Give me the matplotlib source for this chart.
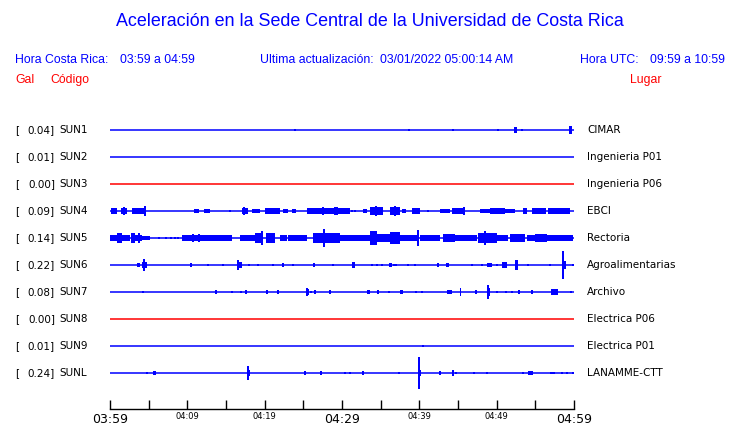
import matplotlib
matplotlib.use("Agg")
import matplotlib.pyplot as plt

W, H = 740, 423

# stations, top to bottom
codes = ["SUN1", "SUN2", "SUN3", "SUN4", "SUN5", "SUN6", "SUN7", "SUN8", "SUN9", "SUNL"]
gal = ["0.04", "0.01", "0.00", "0.09", "0.14", "0.22", "0.08", "0.00", "0.01", "0.24"]
places = ["CIMAR", "Ingenieria P01", "Ingenieria P06", "EBCI", "Rectoria",
          "Agroalimentarias", "Archivo", "Electrica P06", "Electrica P01", "LANAMME-CTT"]
trace_colors = ["blue", "blue", "red", "blue", "blue", "blue", "blue", "red", "blue", "blue"]

# bursts per station: (start min, end min, half amplitude) minutes after 03:59
bursts = {
    "SUN1": [(23.9, 23.9, 1), (38.5, 38.8, 1), (44.4, 44.4, 1), (50.2, 50.2, 1),
             (52.3, 52.6, 2), (53.3, 53.3, 1), (59.3, 59.7, 3)],
    "SUN2": [],
    "SUN3": [],
    "SUN4": [(0.1, 0.9, 2), (1.4, 2.2, 2), (1.8, 1.8, 3), (2.8, 4.7, 2.5), (4.5, 4.5, 4),
             (10.9, 11.5, 1.5), (12.2, 12.9, 1.5), (15.5, 15.5, 1), (17.1, 17.8, 2),
             (17.3, 17.3, 3), (18.4, 19.4, 1.5), (20.0, 22.0, 2), (22.4, 23.0, 1.5),
             (23.5, 24.1, 1.5), (25.5, 26.9, 2), (26.9, 31.0, 2), (27.5, 27.5, 3),
             (29.1, 29.1, 3), (29.4, 29.4, 3), (31.3, 31.3, 1), (31.7, 31.7, 1),
             (32.7, 33.2, 1.5), (33.6, 35.3, 3), (34.4, 34.4, 4), (36.2, 37.5, 3),
             (36.8, 36.8, 4), (37.8, 38.3, 1.5), (39.1, 40.1, 2), (41.1, 41.1, 1),
             (42.7, 44.0, 1.5), (44.2, 45.9, 2), (45.8, 45.8, 3), (47.8, 49.1, 1.5),
             (49.1, 51.1, 2), (51.1, 52.4, 1.5), (53.4, 53.9, 2), (54.6, 56.4, 2),
             (56.6, 59.5, 2)],
    "SUN5": [(0.0, 0.9, 2.5), (0.9, 1.6, 4), (1.6, 2.6, 2), (2.7, 3.2, 3.5), (2.9, 2.9, 4),
             (3.2, 4.1, 2.5), (3.7, 3.7, 4), (4.1, 5.2, 1.5), (6.3, 6.3, 1), (7.2, 7.2, 1),
             (7.9, 7.9, 1), (8.4, 8.4, 1), (8.8, 8.8, 1), (9.3, 15.8, 2), (10.7, 10.7, 3),
             (11.5, 11.5, 3), (16.8, 18.8, 2.5), (18.8, 19.7, 4), (19.6, 19.6, 5),
             (20.2, 21.3, 3.5), (22.0, 22.9, 2), (23.0, 25.5, 2), (26.3, 26.9, 4),
             (26.9, 29.7, 3.5), (27.7, 27.7, 7), (29.7, 31.0, 2.5), (31.0, 33.6, 2),
             (33.6, 34.5, 5), (34.5, 36.2, 3), (36.2, 37.5, 4.5), (37.5, 39.7, 2),
             (39.8, 39.8, 6), (40.1, 42.7, 2), (43.1, 44.6, 3), (44.6, 47.5, 2),
             (47.6, 50.0, 4), (48.5, 48.5, 5), (50.0, 51.5, 2), (51.7, 53.7, 3),
             (53.9, 55.0, 2), (55.0, 56.5, 3), (56.5, 59.9, 2.5)],
    "SUN6": [(3.5, 3.9, 1.5), (4.1, 4.8, 2.5), (4.4, 4.4, 4.5), (10.3, 10.6, 1.5),
             (12.7, 12.7, 0.7), (14.6, 14.6, 1), (16.6, 17.1, 2), (16.6, 16.6, 4),
             (18.0, 18.0, 1), (19.1, 19.1, 0.7), (21.1, 21.1, 1), (22.2, 22.4, 1.5),
             (23.7, 23.7, 1), (26.3, 26.5, 1.5), (28.8, 28.8, 1), (31.3, 31.7, 2.5),
             (33.9, 33.9, 1), (34.5, 34.5, 1), (35.2, 35.2, 1), (36.1, 36.5, 1.5),
             (36.6, 37.1, 1), (38.5, 38.5, 1), (39.4, 39.4, 1), (42.4, 42.4, 1.5),
             (43.5, 43.8, 1.5), (46.8, 46.8, 1), (48.1, 48.1, 1), (48.8, 49.4, 1.5),
             (50.0, 50.0, 1), (50.7, 51.3, 2.5), (52.4, 52.8, 3.5), (54.1, 54.1, 1),
             (56.9, 56.9, 1), (58.5, 59.0, 3), (58.6, 58.6, 10.5), (59.9, 59.9, 1)],
    "SUN7": [(4.3, 4.3, 1), (13.6, 13.9, 1.5), (15.8, 15.8, 1), (16.9, 16.9, 1),
             (17.5, 17.6, 1.5), (20.2, 20.4, 1.5), (21.6, 21.9, 1.5), (25.3, 25.7, 2.5),
             (25.5, 25.5, 3), (26.0, 26.0, 1), (26.5, 26.5, 1.5), (28.4, 28.4, 1.5),
             (33.2, 33.6, 1.5), (34.7, 34.7, 1.5), (36.1, 36.1, 1), (37.5, 37.9, 1.5),
             (39.6, 39.6, 1), (40.3, 40.3, 1), (43.6, 44.0, 1.5), (44.1, 44.1, 1.5),
             (45.2, 45.4, 3), (47.3, 47.3, 1.5), (48.8, 49.1, 3), (48.9, 48.9, 5),
             (50.0, 50.0, 1), (51.2, 51.2, 1), (52.0, 52.0, 1), (52.9, 52.9, 1.5),
             (54.6, 54.6, 1.5), (57.0, 57.9, 2), (59.6, 59.6, 1)],
    "SUN8": [],
    "SUN9": [(40.5, 40.5, 0.7)],
    "SUNL": [(4.8, 4.8, 1), (5.6, 5.9, 1.5), (17.7, 18.1, 2.5), (17.8, 17.8, 5),
             (25.2, 25.2, 1.5), (27.3, 27.3, 1.5), (30.4, 30.4, 1), (30.9, 31.0, 1),
             (32.6, 32.8, 1.5), (37.4, 37.4, 1), (39.9, 40.2, 2), (40.0, 40.0, 12),
             (42.7, 42.7, 1.5), (44.2, 44.4, 2.5), (44.7, 44.7, 1), (47.1, 47.1, 1),
             (48.8, 48.8, 1), (53.4, 53.4, 1), (54.1, 54.7, 1.5), (56.9, 57.5, 1),
             (58.5, 58.5, 1), (59.0, 59.2, 1), (59.9, 59.9, 1)],
}

# time axis
major_ticks = [0, 30, 60]
major_labels = ["03:59", "04:29", "04:59"]
minor_ticks = [5, 10, 15, 20, 25, 35, 40, 45, 50, 55]
minor_labels = ["", "04:09", "", "04:19", "", "", "04:39", "", "04:49", ""]

BLUE = "#0000ff"
RED = "#ff0000"
row_px = 27.0
amp_scale = 1.35 / row_px


def fx(x):
    return x / W


def fy(y):
    return 1 - y / H


fig = plt.figure(figsize=(W / 100, H / 100), dpi=100)

# axes: rows 0..9 at y = 130 + 27*i, bottom spine at y = 409
top_px, bot_px = 103, 409
ax = fig.add_axes([fx(110), fy(bot_px), (574 - 110) / W, (bot_px - top_px) / H])
ax.set_xlim(0, 60)
ax.set_ylim((bot_px - 130) / row_px, -1)

for i, code in enumerate(codes):
    ax.plot([0, 60], [i, i], color=trace_colors[i], lw=1.1, solid_capstyle="butt")
    for t0, t1, a in bursts[code]:
        w = max(t1 - t0, 0.24)
        h = max(a * amp_scale, 1.4 / row_px)
        ax.bar(t0 if t1 > t0 else t0 - w / 2, 2 * h, width=w, bottom=i - h,
               align="edge", color=trace_colors[i], linewidth=0)

for s in ["top", "left", "right"]:
    ax.spines[s].set_visible(False)
ax.spines["bottom"].set_linewidth(1.0)
ax.set_yticks([])
ax.set_xticks(major_ticks)
ax.set_xticklabels(major_labels, fontsize=9)
ax.set_xticks(minor_ticks, minor=True)
ax.set_xticklabels(minor_labels, minor=True, fontsize=6)
ax.tick_params(axis="x", which="major", direction="in", length=6.5, width=1, pad=3)
ax.tick_params(axis="x", which="minor", direction="in", length=6.5, width=1, pad=2)

# station labels
for i in range(len(codes)):
    y = fy(130 + row_px * i)
    fig.text(fx(15), y, "[", fontsize=7.5, va="center", ha="left")
    fig.text(fx(55), y, gal[i] + "]", fontsize=7.5, va="center", ha="right")
    fig.text(fx(59), y, codes[i], fontsize=7.5, va="center", ha="left")
    fig.text(fx(587), y, places[i], fontsize=7.5, va="center", ha="left")

# header
hf = "Liberation Sans"
fig.text(0.5, fy(22), "Aceleración en la Sede Central de la Universidad de Costa Rica",
         fontsize=12.9, color=BLUE, ha="center", va="center", family=hf)
fig.text(fx(15), fy(60), "Hora Costa Rica:", fontsize=8.8, color=BLUE, va="center", family=hf)
fig.text(fx(120), fy(60), "03:59 a 04:59", fontsize=8.8, color=BLUE, va="center", family=hf)
fig.text(fx(260), fy(60), "Ultima actualización:", fontsize=8.8, color=BLUE, va="center", family=hf)
fig.text(fx(380), fy(60), "03/01/2022 05:00:14 AM", fontsize=8.8, color=BLUE, va="center", family=hf)
fig.text(fx(580), fy(60), "Hora UTC:", fontsize=8.8, color=BLUE, va="center", family=hf)
fig.text(fx(650), fy(60), "09:59 a 10:59", fontsize=8.8, color=BLUE, va="center", family=hf)
fig.text(fx(15), fy(80), "Gal", fontsize=8.8, color=RED, va="center", family=hf)
fig.text(fx(50), fy(80), "Código", fontsize=8.8, color=RED, va="center", family=hf)
fig.text(fx(630), fy(80), "Lugar", fontsize=8.8, color=RED, va="center", family=hf)

fig.savefig("out.png", dpi=100)
